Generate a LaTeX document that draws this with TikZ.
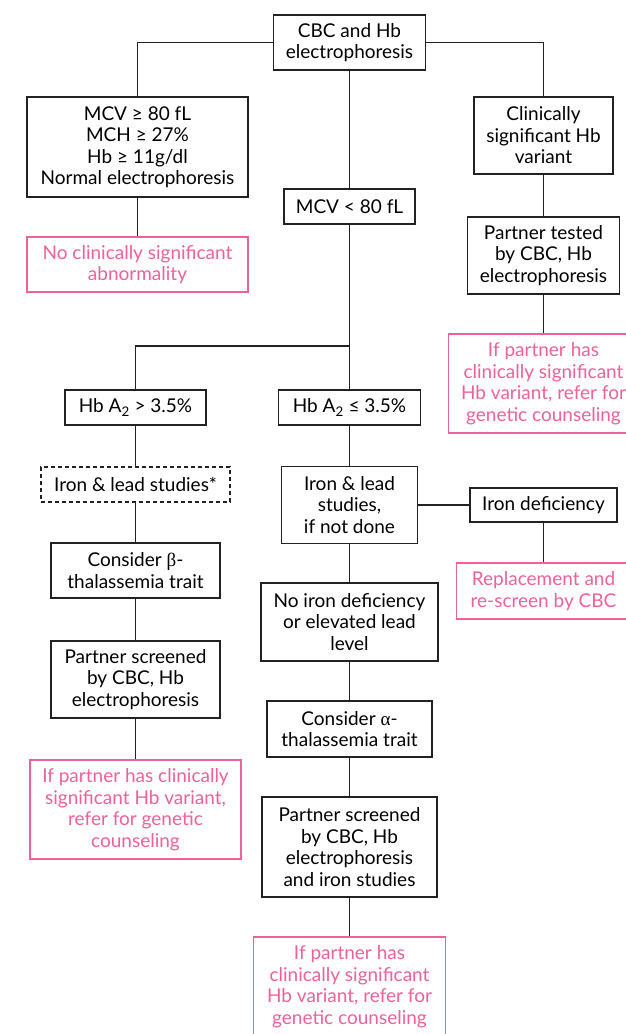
\documentclass[tikz,border=0pt]{standalone}
\usepackage{fontspec}
\setmainfont{Lato}
\newfontfamily\greekfont{Liberation Serif}
\usepackage{amsmath}
\usepackage{xcolor}
\definecolor{pinkline}{RGB}{240,96,154}
\definecolor{darkline}{RGB}{34,34,34}

\begin{document}
\begin{tikzpicture}[x=1pt,y=-1pt,
  box/.style={draw=darkline,line width=1.2pt,align=center,inner sep=0pt,
    font=\fontsize{19}{21.5}\selectfont},
  pinkbox/.style={box,draw=pinkline,text=pinkline},
  dashbox/.style={box,dashed,dash pattern=on 4pt off 3pt},
  link/.style={draw=darkline,line width=1.2pt}]
\useasboundingbox (0,0) rectangle (625,1034);
\node[box,minimum width=152pt,minimum height=55pt] (cbc) at (349.5,42.5) {CBC and Hb\\electrophoresis};
\node[box,minimum width=221pt,minimum height=100pt] (normal) at (137.5,147) {MCV ≥ 80 fL\\MCH ≥ 27\%\\Hb ≥ 11g/dl\\Normal electrophoresis};
\node[pinkbox,minimum width=221pt,minimum height=55pt] (noabn) at (137.5,264.5) {No clinically significant\\abnormality};
\node[box,minimum width=131pt,minimum height=35pt] (mcvlow) at (349.5,206.5) {MCV < 80 fL};
\node[box,minimum width=139pt,minimum height=77pt] (variant) at (543.5,135.5) {Clinically\\significant Hb\\variant};
\node[box,minimum width=152pt,minimum height=77pt] (partnertest) at (543.5,255.5) {Partner tested\\by CBC, Hb\\electrophoresis};
\node[pinkbox,minimum width=190pt,minimum height=99pt] (pinkright) at (543.5,383.5) {If partner has\\clinically significant\\Hb variant, refer for\\genetic counseling};
\coordinate (split) at (349.5,346);
\node[box,minimum width=141pt,minimum height=35pt] (hbhigh) at (135.5,407.5) {Hb A\textsubscript{2} > 3.5\%};
\node[box,minimum width=142pt,minimum height=35pt] (hblow) at (349.5,407.5) {Hb A\textsubscript{2} ≤ 3.5\%};
\node[dashbox,minimum width=189pt,minimum height=35pt] (ironstar) at (135.5,484.5) {Iron \& lead studies*};
\node[box,minimum width=136pt,minimum height=77pt] (ironlead) at (349.5,505) {Iron \& lead\\studies,\\if not done};
\node[box,minimum width=147pt,minimum height=34pt] (irondef) at (543.5,505) {Iron deficiency};
\node[pinkbox,minimum width=174pt,minimum height=56pt] (replace) at (543.5,591) {Replacement and\\re-screen by CBC};
\node[box,minimum width=169pt,minimum height=55pt] (betatrait) at (135.5,570.5) {Consider {\greekfont β}-\\thalassemia trait};
\node[box,minimum width=177pt,minimum height=78pt] (noirondef) at (349.5,622) {No iron deficiency\\or elevated lead\\level};
\node[box,minimum width=169pt,minimum height=77pt] (partnerL) at (135.5,679.5) {Partner screened\\by CBC, Hb\\electrophoresis};
\node[pinkbox,minimum width=211pt,minimum height=99pt] (pinkL) at (135.5,809.5) {If partner has clinically\\significant Hb variant,\\refer for genetic\\counseling};
\node[box,minimum width=165pt,minimum height=56pt] (alphatrait) at (349.5,729) {Consider {\greekfont α}-\\thalassemia trait};
\node[box,minimum width=175pt,minimum height=100pt] (partnerC) at (349.5,847) {Partner screened\\by CBC, Hb\\electrophoresis\\and iron studies};
\node[pinkbox,minimum width=192pt,minimum height=99pt] (pinkC) at (349.5,986.5) {If partner has\\clinically significant\\Hb variant, refer for\\genetic counseling};
\draw[link] (cbc.west) -| (normal.north);
\draw[link] (cbc.east) -| (variant.north);
\draw[link] (cbc) -- (mcvlow);
\draw[link] (normal) -- (noabn);
\draw[link] (variant) -- (partnertest);
\draw[link] (partnertest) -- (pinkright);
\draw[link] (mcvlow) -- (hblow);
\draw[link] (split) -| (hbhigh.north);
\draw[link] (hbhigh) -- (ironstar);
\draw[link] (ironstar) -- (betatrait);
\draw[link] (betatrait) -- (partnerL);
\draw[link] (partnerL) -- (pinkL);
\draw[link] (hblow) -- (ironlead);
\draw[link] (ironlead) -- (irondef);
\draw[link] (irondef) -- (replace);
\draw[link] (ironlead) -- (noirondef);
\draw[link] (noirondef) -- (alphatrait);
\draw[link] (alphatrait) -- (partnerC);
\draw[link] (partnerC) -- (pinkC);
\end{tikzpicture}
\end{document}
